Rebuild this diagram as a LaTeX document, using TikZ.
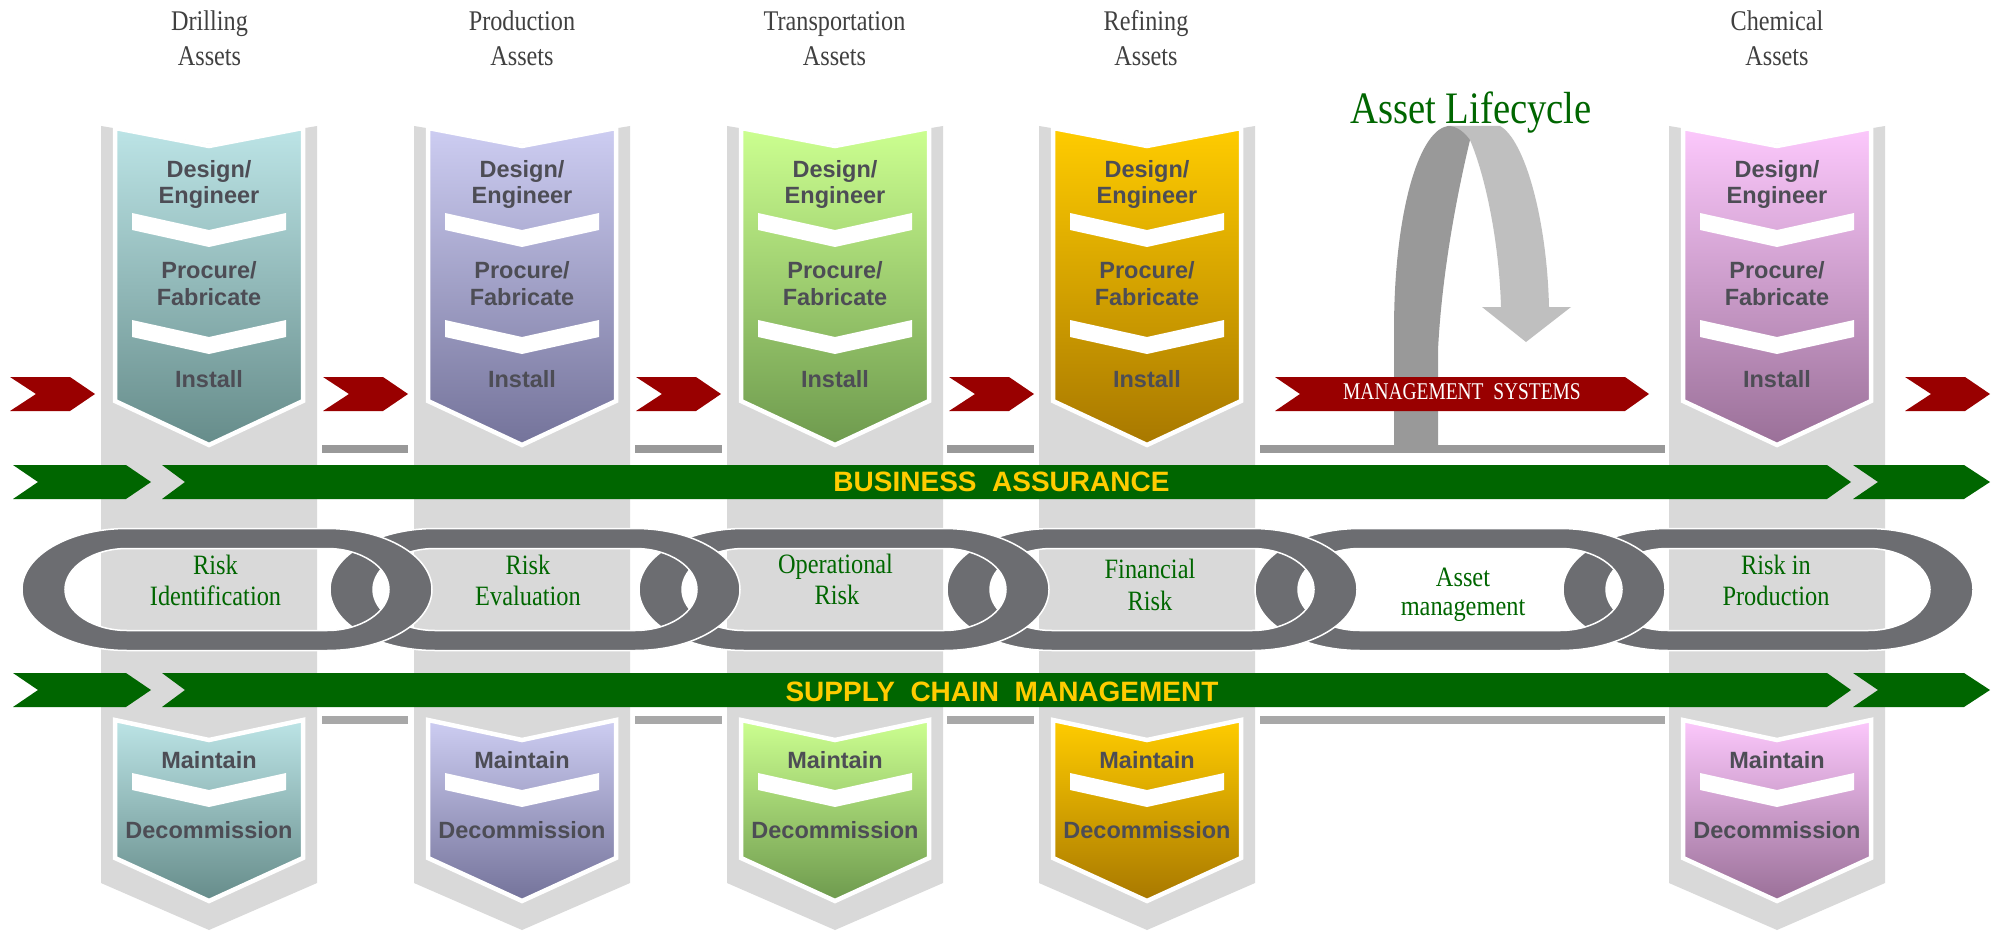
\documentclass[tikz,border=0pt]{standalone}
\usepackage{fontspec}
\setmainfont{Liberation Serif}
\setsansfont{Liberation Sans}
\usepackage{graphicx}

% palette
\definecolor{colbg}{HTML}{D9D9D9}
\definecolor{barupper}{HTML}{999999}
\definecolor{barlower}{HTML}{A8A8A8}
\definecolor{arrowred}{HTML}{990000}
\definecolor{bandgreen}{HTML}{006600}
\definecolor{bandgold}{HTML}{FFCC00}
\definecolor{ringgray}{HTML}{6C6D71}
\definecolor{stagetxt}{HTML}{4D4D55}
\definecolor{headtxt}{HTML}{404040}
\definecolor{labelgreen}{HTML}{006600}
\definecolor{loopdark}{HTML}{999999}
\definecolor{looplight}{HTML}{BFBFBF}
\definecolor{drillTop}{HTML}{BCE4E6}\definecolor{drillBot}{HTML}{668C8A}
\definecolor{prodTop}{HTML}{CDCDF2}\definecolor{prodBot}{HTML}{74739A}
\definecolor{tranTop}{HTML}{CCFF90}\definecolor{tranBot}{HTML}{6E9A4E}
\definecolor{refiTop}{HTML}{FFCC00}\definecolor{refiBot}{HTML}{A87800}
\definecolor{chemTop}{HTML}{FCC8FC}\definecolor{chemBot}{HTML}{9A7098}

% horizontally condensed text
\newcommand\narrowtext[2][0.85]{\scalebox{#1}[1]{#2}}

\begin{document}
\begin{tikzpicture}[x=1pt,y=-1pt,
  colstrip/.style={fill=colbg},
  stagebox/.style n args={2}{top color=#1, bottom color=#2, draw=white,
    line width=4.5pt, line join=miter},
  stepmark/.style={fill=white},
  redarrow/.style={fill=arrowred},
  divupper/.style={fill=barupper},
  divlower/.style={fill=barlower},
  bandfill/.style={fill=bandgreen},
  chainring/.style={fill=ringgray, even odd rule, draw=white, line width=1.5pt},
  stagetext/.style={font=\sffamily\bfseries\fontsize{23.5}{26}\selectfont,
    text=stagetxt, anchor=base, inner sep=0pt},
  headtext/.style={font=\fontsize{28.5}{34}\selectfont, text=headtxt,
    anchor=base, inner sep=0pt},
  linktext/.style={font=\fontsize{28}{31}\selectfont, text=labelgreen,
    anchor=base, inner sep=0pt},
  bandtext/.style={font=\sffamily\bfseries\fontsize{28}{30}\selectfont,
    text=bandgold, anchor=base, inner sep=0pt},
]
\useasboundingbox (0,0) rectangle (1999,931);
\fill[white] (0,0) rectangle (1999,931);

% ---- grey background columns
\foreach \c in {209,522,835,1147,1777} {
  \path[colstrip] (\c-108,126) -- (\c,144) -- (\c+108,126) -- (\c+108,883)
    -- (\c,930) -- (\c-108,883) -- cycle;
}

% ---- divider bars between the columns
\foreach \a/\b in {322/408,635/722,947/1034,1260/1665} {
  \path[divupper] (\a,445) rectangle (\b,453);
  \path[divlower] (\a,716) rectangle (\b,724);
}

% ---- asset lifecycle loop arrow
\path[fill=looplight] (1448,126) -- (1500,126)
  .. controls (1525,140) and (1547,220) .. (1549,307)
  -- (1571,307) -- (1526,342) -- (1482,307) -- (1501,307)
  .. controls (1499,240) and (1485,175) .. (1470,140) -- cycle;
\path[fill=loopdark] (1394,445) -- (1394,330)
  .. controls (1394,210) and (1420,126) .. (1450,126)
  .. controls (1458,127) and (1465,133) .. (1470,140)
  .. controls (1458,190) and (1442,270) .. (1438,350)
  -- (1438,445) -- cycle;
\node[font=\fontsize{45}{50}\selectfont, text=labelgreen, anchor=base,
  inner sep=0pt] (lifecycle) at (1471,123.3) {\narrowtext[0.86]{Asset Lifecycle}};

% ---- red flow arrows
\foreach \x in {52.5,365.5,678.5,991.5,1947.5} {
  \path[redarrow, shift={(\x,394)}] (-42.5,-17) -- (17.5,-17) -- (42.5,0)
    -- (17.5,17) -- (-42.5,17) -- (-16.5,0) -- cycle;
}
\path[redarrow] (1275,377) -- (1625,377) -- (1649,394) -- (1625,411)
  -- (1275,411) -- (1300,394) -- cycle;
\node[font=\fontsize{24}{26}\selectfont, text=white, anchor=base, inner sep=0pt]
  (mgmt) at (1462,399) {\narrowtext[0.81]{MANAGEMENT\ \ SYSTEMS}};

% ---- lifecycle stages of each asset class
\foreach \c/\tc/\bc/\n in {209/drillTop/drillBot/dri,522/prodTop/prodBot/pro,
    835/tranTop/tranBot/tra,1147/refiTop/refiBot/ref,1777/chemTop/chemBot/che} {
  \path[stagebox={\tc}{\bc}] (\c-94,128) -- (\c,146) -- (\c+94,128)
    -- (\c+94,401) -- (\c,445) -- (\c-94,401) -- cycle;
  \path[stagebox={\tc}{\bc}] (\c-94,720) -- (\c,740) -- (\c+94,720)
    -- (\c+94,858) -- (\c,901) -- (\c-94,858) -- cycle;
  \foreach \t in {213,320,773} {
    \path[stepmark] (\c-77,\t) -- (\c,\t+17) -- (\c+77,\t) -- (\c+77,\t+17)
      -- (\c,\t+34) -- (\c-77,\t+17) -- cycle;
  }
  \node[stagetext] (design-\n) at (\c,177) {Design/};
  \node[stagetext] (engineer-\n) at (\c,203) {Engineer};
  \node[stagetext] (procure-\n) at (\c,278) {Procure/};
  \node[stagetext] (fabricate-\n) at (\c,305) {Fabricate};
  \node[stagetext] (install-\n) at (\c,387) {Install};
  \node[stagetext] (maintain-\n) at (\c,768) {Maintain};
  \node[stagetext] (decom-\n) at (\c,838) {Decommission};
}

% ---- column headings
\foreach \c/\w/\n in {209.5/Drilling/dri,522/Production/pro,834.5/Transportation/tra,
    1146/Refining/ref,1777/Chemical/che} {
  \node[headtext] (head-\n) at (\c,31) {\narrowtext{\w}};
  \node[headtext] (assets-\n) at (\c,66) {\narrowtext{Assets}};
}

% ---- green bands
\foreach \t/\n in {465/ba,673/scm} {
  \path[bandfill] (13,\t) -- (126,\t) -- (151,\t+17) -- (126,\t+34) -- (13,\t+34)
    -- (38,\t+17) -- cycle;
  \path[bandfill] (162,\t) -- (1827,\t) -- (1851,\t+17) -- (1827,\t+34)
    -- (162,\t+34) -- (185,\t+17) -- cycle;
  \path[bandfill] (1853,\t) -- (1964,\t) -- (1990,\t+17) -- (1964,\t+34)
    -- (1853,\t+34) -- (1878,\t+17) -- cycle;
}
\node[bandtext] (assurance) at (1001.5,491.7) {BUSINESS\ \ ASSURANCE};
\node[bandtext] (supply) at (1002,701) {SUPPLY\ \ CHAIN\ \ MANAGEMENT};

% ---- chain of risk links, right to left so each link lies over the next
\foreach \x in {1768,1460,1152,844,535,227} {
  \path[chainring, shift={(\x,589.5)}]
    (-100,-61) -- (100,-61) .. controls (158,-61) and (205,-33.7) .. (205,0)
    .. controls (205,33.7) and (158,61) .. (100,61) -- (-100,61)
    .. controls (-158,61) and (-205,33.7) .. (-205,0)
    .. controls (-205,-33.7) and (-158,-61) .. (-100,-61) -- cycle
    (-100,-41) -- (100,-41) .. controls (134,-41) and (162,-22.6) .. (162,0)
    .. controls (162,22.6) and (134,41) .. (100,41) -- (-100,41)
    .. controls (-134,41) and (-162,22.6) .. (-162,0)
    .. controls (-162,-22.6) and (-134,-41) .. (-100,-41) -- cycle;
}
\node[linktext] (ri1) at (215.5,574) {\narrowtext[0.87]{Risk}};
\node[linktext] (ri2) at (215.5,605) {\narrowtext[0.87]{Identification}};
\node[linktext] (re1) at (528,574) {\narrowtext[0.87]{Risk}};
\node[linktext] (re2) at (528,605) {\narrowtext[0.87]{Evaluation}};
\node[linktext] (or1) at (835.5,573) {\narrowtext[0.87]{Operational}};
\node[linktext] (or2) at (837,604) {\narrowtext[0.87]{Risk}};
\node[linktext] (fr1) at (1150,578) {\narrowtext[0.87]{Financial}};
\node[linktext] (fr2) at (1150,610) {\narrowtext[0.87]{Risk}};
\node[linktext] (am1) at (1463,586) {\narrowtext[0.87]{Asset}};
\node[linktext] (am2) at (1463,615) {\narrowtext[0.87]{management}};
\node[linktext] (rp1) at (1776,574) {\narrowtext[0.87]{Risk in}};
\node[linktext] (rp2) at (1776,605) {\narrowtext[0.87]{Production}};
\end{tikzpicture}
\end{document}
